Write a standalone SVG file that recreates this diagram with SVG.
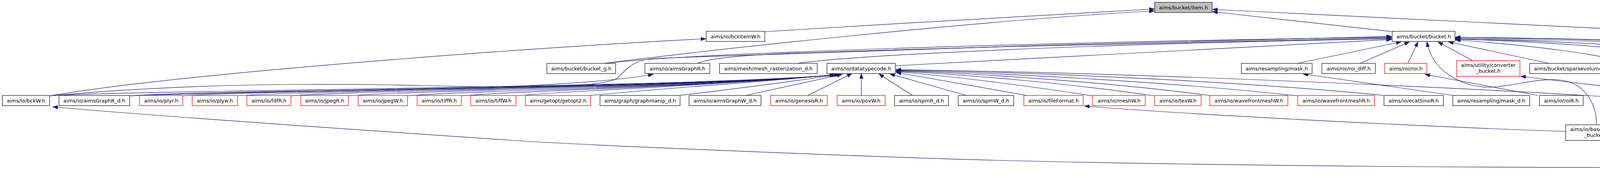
<svg xmlns="http://www.w3.org/2000/svg" width="5180" height="455" viewBox="0 0 5180 455">
<style>
.node rect{fill:#ffffff;stroke:#3a3a3a;stroke-width:1.5}
.node.red rect{stroke:#ff2020}
.node.root rect{fill:#bfbfbf}
.node text{font-family:"DejaVu Sans","Liberation Sans",sans-serif;font-size:13px;text-anchor:middle;fill:#000000}
#edges path{fill:none;stroke:#191970;stroke-width:1.2;marker-end:url(#ah)}
</style>
<defs>
<marker id="ah" markerUnits="userSpaceOnUse" markerWidth="14" markerHeight="10" refX="13" refY="4.5" orient="auto">
<path d="M0,0 L13,4.5 L0,9 z" fill="#191970" stroke="#191970" stroke-width="1"/>
</marker>
</defs>
<rect width="5180" height="455" fill="#ffffff"/>
<g id="edges">
<path d="M1958,81 C2300,60 2700,36 2955,23"/>
<path d="M1545,162 C1800,130 2500,52 2955,28"/>
<path d="M3565,81 L3104,30"/>
<path d="M4417,88 L3104,24"/>
<path d="M127,245 C450,190 1300,125 1807,99"/>
<path d="M5077,162 C5000,135 4800,108 4566,98"/>
<path d="M4125,428 C3500,428 2900,418 2600,411 S1500,372 1300,358 S400,298 135,273"/>
<path d="M4177,408 L4118,360"/>
<path d="M4204,408 L4202,271"/>
<path d="M4284,414 L4623,353"/>
<path d="M4284,427 C4900,400 5170,300 5130,195"/>
<path d="M4008,336 C3600,322 3000,290 2776,271"/>
<path d="M4087,318 C4088,270 4060,210 3990,204 C3930,200 3870,222 3810,223 C3740,222 3665,180 3653,107"/>
<path d="M4772,337 C5120,330 5230,230 4998,189"/>
<path d="M4276,245 C4450,228 4780,212 4866,189"/>
<path d="M4634,244 L4876,189"/>
<path d="M4786,244 L4905,189"/>
<path d="M4983,244 L4951,189"/>
<path d="M4373,244 L4271,189"/>
<path d="M4407,244 L4440,189"/>
<path d="M4303,244 L3893,195"/>
<path d="M3937,244 L3648,190"/>
<path d="M3720,244 L3336,189"/>
<path d="M2635,245 L2294,185"/>
<path d="M2797,245 C2650,222 2450,196 2294,183"/>
<path d="M2956,245 C2750,215 2500,192 2294,182"/>
<path d="M3097,244 C2850,212 2550,190 2294,181"/>
<path d="M3322,245 C3000,210 2600,188 2294,180"/>
<path d="M3543,244 C3200,210 2700,186 2294,179"/>
<path d="M4127,248 C3700,222 2900,186 2294,178"/>
<path d="M2068,244 L2181,188"/>
<path d="M2205,244 L2205,188"/>
<path d="M2336,244 L2250,189"/>
<path d="M2474,244 L2278,189"/>
<path d="M127,245 C277,231 1800,224 2137,191"/>
<path d="M332,245 C482,231 1800,224 2138,191"/>
<path d="M468,245 C618,231 1800,224 2139,191"/>
<path d="M608,245 C758,231 1800,224 2140,191"/>
<path d="M745,245 C895,231 1800,224 2141,191"/>
<path d="M892,245 C1042,231 1800,224 2142,191"/>
<path d="M1043,245 C1193,231 1800,224 2143,191"/>
<path d="M1181,245 C1331,231 1820,222 2145,190"/>
<path d="M1321,245 C1450,232 1850,218 2147,190"/>
<path d="M1511,244 C1700,225 1950,210 2149,190"/>
<path d="M1740,244 C1900,225 2050,205 2152,190"/>
<path d="M1909,244 L2156,190"/>
<path d="M332,245 C700,228 1400,238 1672,190"/>
<path d="M127,245 C400,220 700,212 1000,217 C1250,222 1520,232 1580,200 C1610,170 1625,152 1680,149 C2200,128 3000,105 3562,93"/>
<path d="M1548,162 C1800,132 2800,106 3562,95"/>
<path d="M1785,162 C1820,148 1900,140 2100,133 C2600,118 3200,102 3562,97"/>
<path d="M2040,162 C2200,140 2800,112 3562,99"/>
<path d="M2292,168 L3562,101"/>
<path d="M3321,162 L3587,107"/>
<path d="M3482,162 L3608,107"/>
<path d="M3604,162 L3630,107"/>
<path d="M3770,155 L3681,107"/>
<path d="M3966,162 L3708,107"/>
<path d="M4182,162 C4080,138 3950,118 3726,102"/>
<path d="M4394,162 C4250,130 4050,110 3726,100"/>
<path d="M4624,162 C4500,140 4200,110 3726,99"/>
<path d="M4882,162 C4780,125 4300,100 3726,97"/>
<path d="M3726,100 C4300,104 4780,129 4891,161"/>
<path d="M5070,162 C4950,125 4400,104 3726,95"/>
</g>
<g id="node-item" class="node root"><rect x="2956" y="6" width="147" height="26"/><text x="3029.5" y="23.5">aims/bucket/item.h</text></g>
<g id="node-bckItemW" class="node"><rect x="1808" y="80" width="150" height="26"/><text x="1883" y="97.5">aims/io/bckItemW.h</text></g>
<g id="node-bucket" class="node"><rect x="3564" y="80" width="161" height="26"/><text x="3644.5" y="97.5">aims/bucket/bucket.h</text></g>
<g id="node-bckItemR" class="node"><rect x="4417" y="80" width="148" height="26"/><text x="4491" y="97.5">aims/io/bckItemR.h</text></g>
<g id="node-bucket_g" class="node"><rect x="1400" y="162" width="176" height="26"/><text x="1488" y="179.5">aims/bucket/bucket_g.h</text></g>
<g id="node-aimsGraphR" class="node"><rect x="1651" y="162" width="166" height="26"/><text x="1734" y="179.5">aims/io/aimsGraphR.h</text></g>
<g id="node-mesh_rasterization_d" class="node"><rect x="1842" y="162" width="250" height="26"/><text x="1967" y="179.5">aims/mesh/mesh_rasterization_d.h</text></g>
<g id="node-datatypecode" class="node"><rect x="2117" y="162" width="175" height="26"/><text x="2204.5" y="179.5">aims/io/datatypecode.h</text></g>
<g id="node-mask" class="node"><rect x="3178" y="162" width="181" height="26"/><text x="3268.5" y="179.5">aims/resampling/mask.h</text></g>
<g id="node-roi_diff" class="node"><rect x="3384" y="162" width="137" height="26"/><text x="3452.5" y="179.5">aims/roi/roi_diff.h</text></g>
<g id="node-roi" class="node red"><rect x="3545" y="162" width="108" height="26"/><text x="3599" y="179.5">aims/roi/roi.h</text></g>
<g id="node-converter_bucket" class="node red"><rect x="3729" y="155" width="162" height="40"/><text x="3810" y="171">aims/utility/converter</text><text x="3810" y="186">_bucket.h</text></g>
<g id="node-sparsevolume" class="node"><rect x="3916" y="162" width="209" height="26"/><text x="4020.5" y="179.5">aims/bucket/sparsevolume.h</text></g>
<g id="node-bucketutil" class="node"><rect x="4150" y="162" width="182" height="26"/><text x="4241" y="179.5">aims/bucket/bucketutil.h</text></g>
<g id="node-boundingbox" class="node"><rect x="4355" y="162" width="197" height="26"/><text x="4453.5" y="179.5">aims/utility/boundingbox.h</text></g>
<g id="node-component_d" class="node"><rect x="4576" y="162" width="244" height="26"/><text x="4698" y="179.5">aims/connectivity/component_d.h</text></g>
<g id="node-bucketMap" class="node"><rect x="4843" y="162" width="189" height="26"/><text x="4937.5" y="179.5">aims/bucket/bucketMap.h</text></g>
<g id="node-bckR" class="node"><rect x="5056" y="162" width="118" height="26"/><text x="5115" y="179.5">aims/io/bckR.h</text></g>
<g id="node-bckW" class="node"><rect x="6" y="244" width="121" height="26"/><text x="66.5" y="261.5">aims/io/bckW.h</text></g>
<g id="node-aimsGraphR_d" class="node"><rect x="151" y="244" width="181" height="26"/><text x="241.5" y="261.5">aims/io/aimsGraphR_d.h</text></g>
<g id="node-plyr" class="node red"><rect x="357" y="244" width="111" height="26"/><text x="412.5" y="261.5">aims/io/plyr.h</text></g>
<g id="node-plyw" class="node red"><rect x="492" y="244" width="116" height="26"/><text x="550" y="261.5">aims/io/plyw.h</text></g>
<g id="node-fdfR" class="node red"><rect x="632" y="244" width="113" height="26"/><text x="688.5" y="261.5">aims/io/fdfR.h</text></g>
<g id="node-jpegR" class="node red"><rect x="770" y="244" width="122" height="26"/><text x="831" y="261.5">aims/io/jpegR.h</text></g>
<g id="node-jpegW" class="node red"><rect x="917" y="244" width="126" height="26"/><text x="980" y="261.5">aims/io/jpegW.h</text></g>
<g id="node-tiffR" class="node red"><rect x="1068" y="244" width="113" height="26"/><text x="1124.5" y="261.5">aims/io/tiffR.h</text></g>
<g id="node-tiffW" class="node red"><rect x="1205" y="244" width="116" height="26"/><text x="1263" y="261.5">aims/io/tiffW.h</text></g>
<g id="node-getopt2" class="node red"><rect x="1345" y="244" width="167" height="26"/><text x="1428.5" y="261.5">aims/getopt/getopt2.h</text></g>
<g id="node-graphmanip_d" class="node"><rect x="1536" y="244" width="205" height="26"/><text x="1638.5" y="261.5">aims/graph/graphmanip_d.h</text></g>
<g id="node-aimsGraphW_d" class="node"><rect x="1764" y="244" width="184" height="26"/><text x="1856" y="261.5">aims/io/aimsGraphW_d.h</text></g>
<g id="node-genesisR" class="node red"><rect x="1973" y="244" width="145" height="26"/><text x="2045.5" y="261.5">aims/io/genesisR.h</text></g>
<g id="node-povW" class="node red"><rect x="2143" y="244" width="123" height="26"/><text x="2204.5" y="261.5">aims/io/povW.h</text></g>
<g id="node-spmR_d" class="node"><rect x="2290" y="244" width="138" height="26"/><text x="2359" y="261.5">aims/io/spmR_d.h</text></g>
<g id="node-spmW_d" class="node"><rect x="2453" y="244" width="142" height="26"/><text x="2524" y="261.5">aims/io/spmW_d.h</text></g>
<g id="node-fileFormat" class="node red"><rect x="2621" y="244" width="152" height="26"/><text x="2697" y="261.5">aims/io/fileFormat.h</text></g>
<g id="node-meshW" class="node red"><rect x="2797" y="244" width="135" height="26"/><text x="2864.5" y="261.5">aims/io/meshW.h</text></g>
<g id="node-texW" class="node red"><rect x="2956" y="244" width="119" height="26"/><text x="3015.5" y="261.5">aims/io/texW.h</text></g>
<g id="node-wavefrontmeshW" class="node red"><rect x="3097" y="244" width="200" height="26"/><text x="3197" y="261.5">aims/io/wavefrontmeshW.h</text></g>
<g id="node-wavefrontmeshR" class="node red"><rect x="3322" y="244" width="197" height="26"/><text x="3420.5" y="261.5">aims/io/wavefrontmeshR.h</text></g>
<g id="node-ecatSinoR" class="node"><rect x="3543" y="244" width="152" height="26"/><text x="3619" y="261.5">aims/io/ecatSinoR.h</text></g>
<g id="node-mask_d" class="node"><rect x="3719" y="244" width="197" height="26"/><text x="3817.5" y="261.5">aims/resampling/mask_d.h</text></g>
<g id="node-roiR" class="node"><rect x="3941" y="244" width="112" height="26"/><text x="3997" y="261.5">aims/io/roiR.h</text></g>
<g id="node-bckMapW" class="node"><rect x="4127" y="244" width="149" height="26"/><text x="4201.5" y="261.5">aims/io/bckMapW.h</text></g>
<g id="node-bucketutil_d" class="node"><rect x="4301" y="244" width="198" height="26"/><text x="4400" y="261.5">aims/bucket/bucketutil_d.h</text></g>
<g id="node-fill_d" class="node"><rect x="4522" y="244" width="122" height="26"/><text x="4583" y="261.5">aims/roi/fill_d.h</text></g>
<g id="node-bucketgen" class="node"><rect x="4668" y="244" width="186" height="26"/><text x="4761" y="261.5">aims/bucket/bucketgen.h</text></g>
<g id="node-connectivity" class="node red"><rect x="4876" y="244" width="233" height="26"/><text x="4992.5" y="261.5">aims/connectivity/connectivity.h</text></g>
<g id="node-baseFormats_bucket" class="node"><rect x="4008" y="319" width="158" height="40"/><text x="4087" y="335">aims/io/baseFormats</text><text x="4087" y="350">_bucket.h</text></g>
<g id="node-bckMapR" class="node"><rect x="4626" y="326" width="146" height="26"/><text x="4699" y="343.5">aims/io/bckMapR.h</text></g>
<g id="node-baseFormats_bucket_d" class="node"><rect x="4125" y="408" width="159" height="41"/><text x="4204.5" y="424">aims/io/baseFormats</text><text x="4204.5" y="439">_bucket_d.h</text></g>
</svg>
